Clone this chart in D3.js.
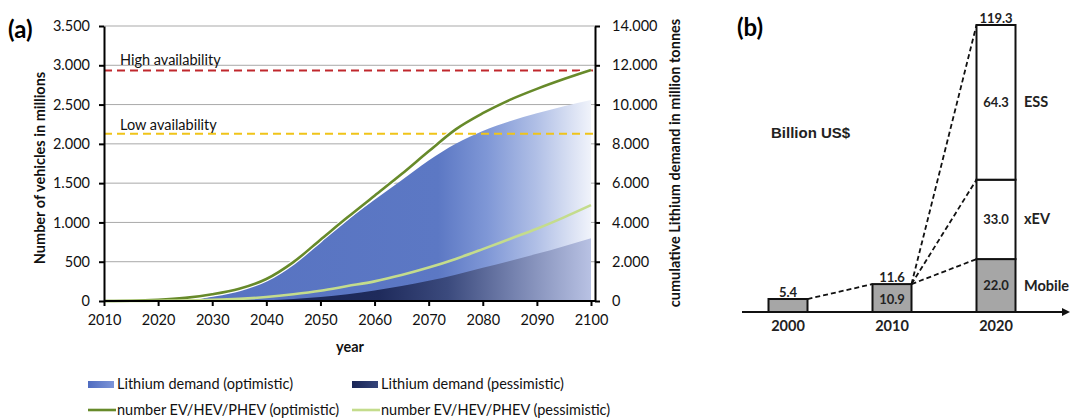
<!DOCTYPE html>
<html>
<head>
<meta charset="utf-8">
<script src="https://cdn.jsdelivr.net/npm/d3@7"></script>
<style>
    body { margin: 0; background: #fff; }
    svg { display: block; font-family: Lato, 'Open Sans', sans-serif; }
</style>
</head>
<body>
<svg id="chart" width="1070" height="420"></svg>
<script>
// ---- panel (a) data ----
var years = [2010, 2015, 2020, 2025, 2030, 2035, 2040, 2045, 2050, 2055, 2060, 2065, 2070, 2075, 2080, 2085, 2090, 2095, 2100];
// number of vehicles in millions
var evOptimistic = [0, 3, 15, 40, 85, 155, 280, 495, 780, 1065, 1340, 1615, 1905, 2185, 2390, 2560, 2700, 2825, 2940];
var evPessimistic = [0, 1, 3, 7, 14, 27, 50, 85, 130, 190, 250, 330, 425, 535, 660, 790, 920, 1065, 1220];
// cumulative lithium demand in million tonnes
var lithiumOptimistic = [0, 0, 0, 0, 240, 540, 1040, 1920, 3000, 4120, 5150, 6150, 7150, 8000, 8650, 9150, 9560, 9920, 10230];
var lithiumPessimistic = [0, 0, 0, 0, 0, 10, 40, 100, 200, 340, 540, 770, 1030, 1340, 1690, 2040, 2400, 2790, 3190];
var leftTicks = [0, 500, 1000, 1500, 2000, 2500, 3000, 3500];
var rightTicks = [0, 2000, 4000, 6000, 8000, 10000, 12000, 14000];
var yearTicks = [2010, 2020, 2030, 2040, 2050, 2060, 2070, 2080, 2090, 2100];
var highAvailability = 2935;
var lowAvailability = 2128;

// ---- panel (b) data ----
var marketYears = ['2000', '2010', '2020'];
var marketTotals = [5.4, 11.6, 119.3];
var marketInside = [null, 10.9, null];
var segmentNames = ['Mobile', 'xEV', 'ESS'];
var segments2020 = [22.0, 33.0, 64.3];

var svg = d3.select('#chart');
var fmt = d3.formatLocale({ decimal: ',', thousands: '.', grouping: [3], currency: ['', ''] }).format(',d');

var defs = svg.append('defs');

function addGradient(id, stops) {
    var g = defs.append('linearGradient')
        .attr('id', id)
        .attr('gradientUnits', 'userSpaceOnUse')
        .attr('x1', 104).attr('x2', 595).attr('y1', 0).attr('y2', 0);
    stops.forEach(function (s) {
        g.append('stop').attr('offset', s[0]).attr('stop-color', s[1]);
    });
}

addGradient('gradOpt', [[0, '#5570c0'], [0.68, '#5c78c4'], [0.78, '#7f97d6'], [0.88, '#b0bfe6'], [1, '#f5f7fc']]);
addGradient('gradPes', [[0, '#121d48'], [0.56, '#1f2b5c'], [0.70, '#3b4a7d'], [0.83, '#7380ad'], [1, '#bcc5e6']]);

// legend swatch gradients
var lg1 = defs.append('linearGradient').attr('id', 'legOpt');
lg1.append('stop').attr('offset', 0).attr('stop-color', '#4f6cc0');
lg1.append('stop').attr('offset', 1).attr('stop-color', '#7d95d8');
var lg2 = defs.append('linearGradient').attr('id', 'legPes');
lg2.append('stop').attr('offset', 0).attr('stop-color', '#1a2656');
lg2.append('stop').attr('offset', 1).attr('stop-color', '#34447a');

// ================= panel (a) =================
var x = d3.scaleLinear().domain([2010, 2100]).range([104, 591]);
var yLeft = d3.scaleLinear().domain([0, 3500]).range([301, 26]);
var yRight = d3.scaleLinear().domain([0, 14000]).range([301, 26]);
var plotRight = 595;

var a = svg.append('g').attr('class', 'panel-a');

// gridlines
a.append('g').selectAll('line').data(leftTicks.slice(1)).enter().append('line')
    .attr('x1', 104).attr('x2', plotRight)
    .attr('y1', function (d) { return yLeft(d); })
    .attr('y2', function (d) { return yLeft(d); })
    .attr('stroke', '#a9a9a9').attr('stroke-width', 1);

// lithium areas
var areaOpt = d3.area()
    .x(function (d, i) { return x(years[i]); })
    .y0(yRight(0))
    .y1(function (d) { return yRight(d); })
    .curve(d3.curveMonotoneX);

a.append('path').datum(lithiumOptimistic)
    .attr('d', areaOpt)
    .attr('fill', 'url(#gradOpt)');

a.append('path').datum(lithiumPessimistic)
    .attr('d', areaOpt)
    .attr('fill', 'url(#gradPes)');

// availability lines
function availability(value, color, label, labelOffset) {
    a.append('line')
        .attr('x1', 104).attr('x2', plotRight)
        .attr('y1', yLeft(value)).attr('y2', yLeft(value))
        .attr('stroke', color).attr('stroke-width', 2)
        .attr('stroke-dasharray', '8,5');
    a.append('text')
        .attr('x', 120).attr('y', yLeft(value) - labelOffset)
        .attr('font-size', 14.5).attr('fill', '#111')
        .text(label);
}
availability(highAvailability, '#c0282d', 'High availability', 5);
availability(lowAvailability, '#f0c419', 'Low availability', 4);

// vehicle lines
var line = d3.line()
    .x(function (d, i) { return x(years[i]); })
    .y(function (d) { return yLeft(d); })
    .curve(d3.curveMonotoneX);

a.append('path').datum(evOptimistic)
    .attr('d', line).attr('fill', 'none')
    .attr('stroke', '#fff').attr('stroke-width', 5);
a.append('path').datum(evOptimistic)
    .attr('d', line).attr('fill', 'none')
    .attr('stroke', '#678a2a').attr('stroke-width', 2.6);
a.append('path').datum(evPessimistic)
    .attr('d', line).attr('fill', 'none')
    .attr('stroke', '#c4dc8c').attr('stroke-width', 2.6);

// axes
function styleAxis(g) {
    g.selectAll('path, line').attr('stroke', '#000').attr('stroke-width', 2);
    g.selectAll('text').attr('font-size', 14.5).attr('fill', '#111').attr('font-family', 'Lato, sans-serif');
}

a.append('g')
    .attr('transform', 'translate(104,0)')
    .call(d3.axisLeft(yLeft).tickValues(leftTicks).tickFormat(fmt).tickSize(5).tickSizeOuter(0).tickPadding(9))
    .call(styleAxis);

a.append('g')
    .attr('transform', 'translate(' + plotRight + ',0)')
    .call(d3.axisRight(yRight).tickValues(rightTicks).tickFormat(fmt).tickSize(5).tickSizeOuter(0).tickPadding(12))
    .call(styleAxis);

var xAxis = a.append('g')
    .attr('transform', 'translate(0,301)')
    .call(d3.axisBottom(x).tickValues(yearTicks).tickFormat(d3.format('d')).tickSize(5).tickSizeOuter(0).tickPadding(9))
    .call(styleAxis);
xAxis.select('.domain').attr('d', 'M104,0H' + plotRight);

// axis titles
a.append('text')
    .attr('transform', 'translate(45,168) rotate(-90)')
    .attr('text-anchor', 'middle')
    .attr('font-size', 14.5).attr('font-weight', 'bold').attr('fill', '#111')
    .text('Number of vehicles in millions');

a.append('text')
    .attr('transform', 'translate(680,163) rotate(-90)')
    .attr('text-anchor', 'middle')
    .attr('font-size', 14.5).attr('font-weight', 'bold').attr('fill', '#111')
    .text('cumulative Lithium demand in million tonnes');

a.append('text')
    .attr('x', 350).attr('y', 352)
    .attr('text-anchor', 'middle')
    .attr('font-size', 14.5).attr('font-weight', 'bold').attr('fill', '#111')
    .text('year');

a.append('text')
    .attr('x', 8).attr('y', 38)
    .attr('font-size', 24).attr('font-weight', 'bold').attr('fill', '#000')
    .text('(a)');

// legend
var legend = a.append('g').attr('font-size', 14.5).attr('fill', '#111');
var legendItems = [
    { label: 'Lithium demand (optimistic)', fill: 'url(#legOpt)', x: 88, y: 384 },
    { label: 'Lithium demand (pessimistic)', fill: 'url(#legPes)', x: 352, y: 384 },
    { label: 'number EV/HEV/PHEV (optimistic)', stroke: '#678a2a', x: 88, y: 410 },
    { label: 'number EV/HEV/PHEV (pessimistic)', stroke: '#c4dc8c', x: 352, y: 410 }
];
legendItems.forEach(function (d) {
    if (d.fill) {
        legend.append('rect')
            .attr('x', d.x).attr('y', d.y - 3).attr('width', 26).attr('height', 7)
            .attr('fill', d.fill);
    } else {
        legend.append('line')
            .attr('x1', d.x).attr('x2', d.x + 28).attr('y1', d.y).attr('y2', d.y)
            .attr('stroke', d.stroke).attr('stroke-width', 2.6);
    }
    legend.append('text')
        .attr('x', d.x + 29).attr('y', d.y)
        .attr('dy', '0.35em')
        .text(d.label);
});

// ================= panel (b) =================
var b = svg.append('g').attr('class', 'panel-b');
var xb = d3.scalePoint().domain(marketYears).range([788, 996]);
var yb = d3.scaleLinear().domain([0, 119.3]).range([312, 25]);
var barW = 39;

// connecting dashed lines
var conn = [];
conn.push([xb('2000') + barW / 2, yb(marketTotals[0]), xb('2010') - barW / 2, yb(marketTotals[1])]);
var cum = 0;
segments2020.forEach(function (v) {
    cum += v;
    conn.push([xb('2010') + barW / 2, yb(marketTotals[1]), xb('2020') - barW / 2, yb(cum)]);
});
b.append('g').selectAll('line').data(conn).enter().append('line')
    .attr('x1', function (d) { return d[0]; })
    .attr('y1', function (d) { return d[1]; })
    .attr('x2', function (d) { return d[2]; })
    .attr('y2', function (d) { return d[3]; })
    .attr('stroke', '#111').attr('stroke-width', 1.8)
    .attr('stroke-dasharray', '5,3');

// 2000 and 2010 bars
b.append('g').selectAll('rect').data(marketYears.slice(0, 2)).enter().append('rect')
    .attr('x', function (d) { return xb(d) - barW / 2; })
    .attr('y', function (d, i) { return yb(marketTotals[i]); })
    .attr('width', barW)
    .attr('height', function (d, i) { return yb(0) - yb(marketTotals[i]); })
    .attr('fill', '#a6a6a6').attr('stroke', '#111').attr('stroke-width', 2);

// 2020 stacked bar
var stackBase = 0;
var segs = segments2020.map(function (v, i) {
    var s = { name: segmentNames[i], v0: stackBase, v1: stackBase + v, value: v };
    stackBase += v;
    return s;
});
b.append('g').selectAll('rect').data(segs).enter().append('rect')
    .attr('x', xb('2020') - barW / 2)
    .attr('y', function (d) { return yb(d.v1); })
    .attr('width', barW)
    .attr('height', function (d) { return yb(d.v0) - yb(d.v1); })
    .attr('fill', function (d) { return d.name === 'Mobile' ? '#a6a6a6' : '#fff'; })
    .attr('stroke', '#111').attr('stroke-width', 2);

var labelStyle = function (sel, size) {
    sel.attr('text-anchor', 'middle').attr('font-weight', 'bold')
        .attr('font-size', size).attr('fill', '#222').attr('dy', '0.35em');
};

b.append('g').selectAll('text').data(segs).enter().append('text')
    .attr('x', xb('2020'))
    .attr('y', function (d) { return (yb(d.v0) + yb(d.v1)) / 2; })
    .text(function (d) { return d.value.toFixed(1); })
    .call(labelStyle, 13);

b.append('g').selectAll('text').data(segs).enter().append('text')
    .attr('x', 1024)
    .attr('y', function (d) { return (yb(d.v0) + yb(d.v1)) / 2; })
    .text(function (d) { return d.name; })
    .call(labelStyle, 14.5)
    .attr('text-anchor', 'start');

// totals above bars
b.append('g').selectAll('text').data(marketYears).enter().append('text')
    .attr('x', function (d) { return xb(d); })
    .attr('y', function (d, i) { return yb(marketTotals[i]) - 7; })
    .text(function (d, i) { return marketTotals[i].toFixed(1); })
    .call(labelStyle, 13);

b.append('g').selectAll('text').data(marketYears.filter(function (d, i) { return marketInside[i] !== null; })).enter().append('text')
    .attr('x', function (d) { return xb(d); })
    .attr('y', function (d) { var i = marketYears.indexOf(d); return (yb(0) + yb(marketInside[i])) / 2 + 1; })
    .text(function (d) { return marketInside[marketYears.indexOf(d)].toFixed(1); })
    .call(labelStyle, 13);

// category axis
b.append('line')
    .attr('x1', 742).attr('x2', 1064).attr('y1', 312).attr('y2', 312)
    .attr('stroke', '#111').attr('stroke-width', 2);
b.append('path')
    .attr('d', 'M1062,308L1070,312L1062,316Z')
    .attr('fill', '#111');

b.append('g').selectAll('text').data(marketYears).enter().append('text')
    .attr('x', function (d) { return xb(d); })
    .attr('y', 326)
    .text(function (d) { return d; })
    .call(labelStyle, 14.5);

b.append('text')
    .attr('x', 771).attr('y', 133).attr('dy', '0.35em')
    .attr('font-family', "'Liberation Sans', Arial, sans-serif")
    .attr('font-size', 15).attr('font-weight', 'bold').attr('fill', '#222')
    .text('Billion US$');

b.append('text')
    .attr('x', 737).attr('y', 36)
    .attr('font-size', 24).attr('font-weight', 'bold').attr('fill', '#000')
    .text('(b)');
</script>
</body>
</html>
